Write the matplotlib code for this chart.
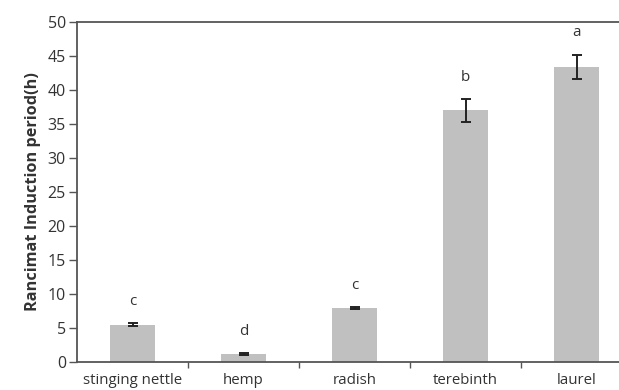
import numpy as np
import matplotlib
matplotlib.use("Agg")
import matplotlib.pyplot as plt

plt.rcParams['font.family'] = ['Open Sans', 'DejaVu Sans']

# Rancimat induction period per oil (h)
plants = ["stinging nettle", "hemp", "radish", "terebinth", "laurel"]
induction = [5.5, 1.2, 7.9, 37.0, 43.4]
errors = [0.2, 0.1, 0.15, 1.7, 1.8]
letters = ["c", "d", "c", "b", "a"]

fig = plt.figure(figsize=(6.19, 3.9), dpi=100)
# the right edge of the original plot is cut off by the image border
ax = fig.add_axes([77 / 619, 1 - 362 / 390, 555 / 619, 340 / 390])

x = np.arange(len(plants))
ax.bar(x, induction, width=0.4, color="#c0c0c0", zorder=2)
ax.errorbar(x, induction, yerr=errors, fmt="none", ecolor="#222222",
            elinewidth=1.4, capsize=3.5, capthick=1.4, zorder=3)

for xi, v, e, lab in zip(x, induction, errors, letters):
    ax.text(xi, v + e + 3.2, lab, ha="center", va="center",
            fontsize=11, color="#333333")

ax.set_xlim(-0.5, len(plants) - 0.5)
ax.set_ylim(0, 50)
ax.set_yticks(np.arange(0, 51, 5))
ax.set_xticks(x)
ax.set_xticklabels(plants)
ax.set_xticks(np.arange(0.5, len(plants) - 0.5, 1), minor=True)
ax.tick_params(axis="x", which="major", length=0, pad=8, labelsize=10.8,
               colors="#333333")
ax.tick_params(axis="x", which="minor", length=4, width=1, color="#555555")
ax.tick_params(axis="y", length=6, width=1, color="#555555", labelsize=11.5,
               labelcolor="#333333", pad=2)

for side in ["left", "bottom", "top"]:
    ax.spines[side].set_color("#555555")
    ax.spines[side].set_linewidth(1.3)
ax.spines["right"].set_visible(False)

ax.set_ylabel("Rancimat Induction period(h)", fontsize=11.7, fontweight="bold",
              color="#333333", labelpad=5)

fig.savefig("out.png", dpi=100)
